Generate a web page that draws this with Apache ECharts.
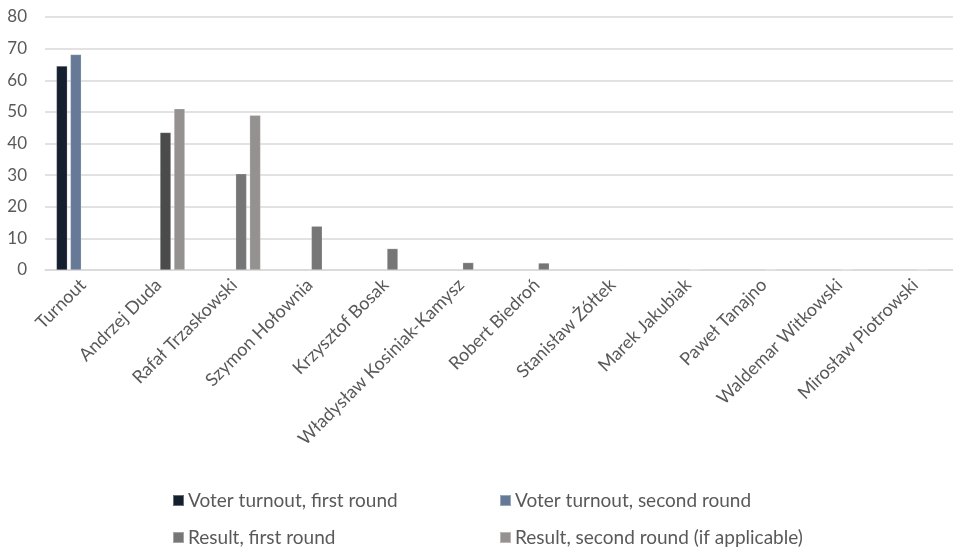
<!DOCTYPE html>
<html>
<head>
<meta charset="utf-8">
<script src="https://cdn.jsdelivr.net/npm/echarts@6/dist/echarts.min.js"></script>
<style>
  html, body { margin: 0; padding: 0; background: #fff; }
  #chart { width: 953px; height: 549px; }
</style>
</head>
<body>
<div id="chart"></div>
<script>
// Polish presidential election 2020: turnout and candidate results (%)
const categories = [
  'Turnout', 'Andrzej Duda', 'Rafał Trzaskowski', 'Szymon Hołownia',
  'Krzysztof Bosak', 'Władysław Kosiniak-Kamysz', 'Robert Biedroń',
  'Stanisław Żółtek', 'Marek Jakubiak', 'Paweł Tanajno',
  'Waldemar Witkowski', 'Mirosław Piotrowski'
];
const seriesNames = [
  'Voter turnout, first round',
  'Voter turnout, second round',
  'Result, first round',
  'Result, second round (if applicable)'
];
const turnoutFirst  = [64.51, null, null, null, null, null, null, null, null, null, null, null];
const turnoutSecond = [68.18, null, null, null, null, null, null, null, null, null, null, null];
const resultFirst   = [null, 43.50, 30.46, 13.87, 6.78, 2.36, 2.22, 0.25, 0.17, 0.14, 0.14, 0.11];
const resultSecond  = [null, 51.03, 48.97, null, null, null, null, null, null, null, null, null];
const yTicks = [0, 10, 20, 30, 40, 50, 60, 70, 80];

const colors = ['#15202f', '#667a97', '#767676', '#959190'];
const FONT = 'Lato';
const TEXT = '#595959';

const chart = echarts.init(document.getElementById('chart'), null, { renderer: 'canvas' });

function barSeries(i, values, perItem) {
  return {
    name: seriesNames[i],
    type: 'bar',
    data: values.map((v, k) => perItem && perItem[k] ? { value: v, itemStyle: { color: perItem[k] } } : v),
    barWidth: 11,
    barGap: '27%',
    itemStyle: { color: colors[i], borderColor: 'rgba(255,255,255,0.35)', borderWidth: 0.6 },
    emphasis: { disabled: true }
  };
}

// first-round result for the winner is drawn in a darker grey
const firstRoundOverrides = { 1: '#4b4b4b' };

function legendAt(name, left, top) {
  return {
    data: [name],
    left: left,
    top: top,
    padding: 0,
    itemWidth: 11,
    itemHeight: 11,
    itemGap: 0,
    icon: 'rect',
    textStyle: { fontFamily: FONT, fontSize: 19, color: TEXT, padding: [0, 0, 0, -1] },
    selectedMode: false
  };
}

chart.setOption({
  animation: false,
  color: colors,
  textStyle: { fontFamily: FONT },
  grid: { left: 45, right: -2, top: 17, bottom: 279, containLabel: false },
  xAxis: {
    type: 'category',
    data: categories,
    axisLine: { show: true, lineStyle: { color: '#d9d9d9', width: 1.5 } },
    axisTick: { show: false },
    axisLabel: {
      rotate: 45,
      interval: 0,
      margin: 12,
      fontFamily: FONT,
      fontSize: 18,
      color: TEXT
    }
  },
  yAxis: {
    type: 'value',
    min: yTicks[0],
    max: yTicks[yTicks.length - 1],
    interval: 10,
    axisLine: { show: false },
    axisTick: { show: false },
    splitLine: { lineStyle: { color: '#d9d9d9', width: 1.5 } },
    axisLabel: { fontFamily: FONT, fontSize: 17, color: TEXT, margin: 18 }
  },
  legend: [
    legendAt(seriesNames[0], 172, 491),
    legendAt(seriesNames[1], 499, 491),
    legendAt(seriesNames[2], 172, 528),
    legendAt(seriesNames[3], 499, 528)
  ],
  series: [
    barSeries(0, turnoutFirst),
    barSeries(1, turnoutSecond),
    barSeries(2, resultFirst, firstRoundOverrides),
    barSeries(3, resultSecond)
  ]
});
</script>
</body>
</html>
